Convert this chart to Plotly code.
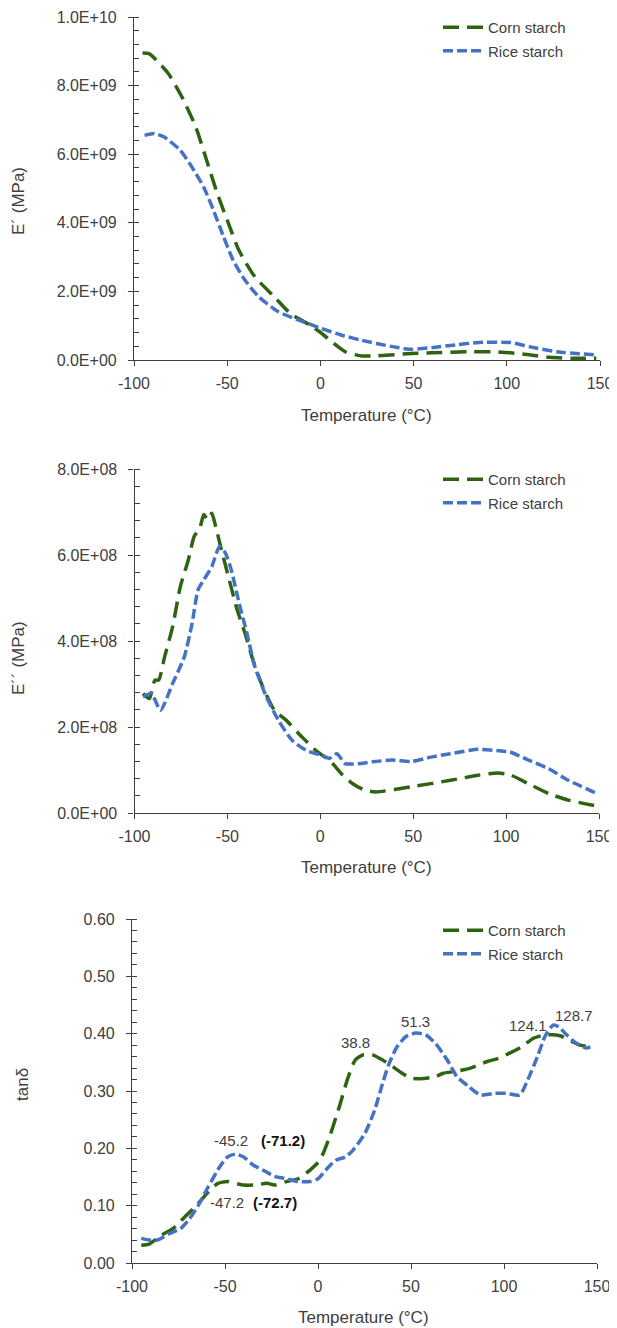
import plotly.graph_objects as go

# storage modulus E' (x1e9)
corn_e1_t = [-95.4, -92, -88, -81.6, -74.3, -66.9, -60.5, -55.3, -50, -43.7, -35.2, -24.7, -16.2, -5.7,
             0.6, 7, 13.3, 21.7, 30, 49, 59.7, 80.8, 93.5, 102, 112, 123, 135.6, 148]
corn_e1 = [8.95, 8.93, 8.74, 8.35, 7.67, 6.8, 5.73, 4.85, 4.08, 3.2, 2.43, 1.84, 1.36, 1.02,
           0.78, 0.49, 0.24, 0.12, 0.12, 0.19, 0.21, 0.24, 0.24, 0.21, 0.15, 0.08, 0.05, 0.05]
rice_e1_t = [-94.3, -89, -83.8, -75.3, -69, -62.7, -57.4, -52, -46.8, -40.5, -33, -22.6, -12, 0.6,
             11, 21.7, 38.6, 49, 59.7, 72.4, 85, 102, 112, 127, 148]
rice_e1 = [6.55, 6.6, 6.5, 6.12, 5.63, 5.05, 4.37, 3.6, 2.91, 2.33, 1.84, 1.41, 1.17, 0.92,
           0.73, 0.58, 0.39, 0.31, 0.36, 0.44, 0.51, 0.51, 0.39, 0.24, 0.15]

# loss modulus E'' (x1e8)
corn_e2_t = [-95.4, -92, -89, -87, -83.8, -79.5, -75.3, -71, -67.9, -64.8, -62.7, -60.5, -58.4, -56.3,
             -53.2, -49, -44.7, -40.5, -36.3, -31, -24.7, -18.4, -9.9, -1.5, 4.9, 11.2, 17.5, 23.9,
             30, 49, 70, 85, 95.6, 102, 112, 123, 133.5, 149]
corn_e2 = [2.78, 2.66, 3.09, 3.09, 3.63, 4.33, 5.27, 5.89, 6.43, 6.63, 6.94, 6.82, 6.97, 6.66,
           6.12, 5.42, 4.72, 4.18, 3.56, 2.94, 2.39, 2.16, 1.77, 1.42, 1.23, 0.92, 0.68, 0.53,
           0.49, 0.61, 0.76, 0.88, 0.93, 0.89, 0.68, 0.45, 0.30, 0.16]
rice_e2_t = [-95.4, -91, -86, -79.5, -73.2, -69, -65.8, -62.7, -58.4, -54.2, -51, -47.9, -43.7, -39.5,
             -35.2, -29, -22.6, -15.2, -7.8, 0.6, 4.9, 9, 13.3, 21.7, 28, 38.6, 49, 59.7,
             70, 85, 97.5, 102, 112, 123, 133.5, 148]
rice_e2 = [2.70, 2.78, 2.39, 3.01, 3.63, 4.41, 5.19, 5.42, 5.73, 6.2, 6.04, 5.65, 4.88, 4.18,
           3.4, 2.7, 2.16, 1.69, 1.46, 1.34, 1.27, 1.38, 1.15, 1.15, 1.19, 1.23, 1.2, 1.3,
           1.38, 1.48, 1.44, 1.42, 1.23, 1.03, 0.76, 0.47]

# tan delta
corn_tan_t = [-95, -90.7, -84.4, -78, -71.8, -65.4, -59, -53.8, -48.6, -44.4, -40, -33.8, -27.5, -23.3,
              -17, -10.6, -4.3, 1, 6.2, 11.5, 15.7, 20, 24.2, 29.4, 34.7, 40, 45.2, 50.5, 56.8,
              63.2, 67.4, 73.7, 82, 90.6, 96.9, 103, 109.5, 115.8, 122, 126.4, 130.6, 134.8, 141, 146.4]
corn_tan = [0.031, 0.033, 0.048, 0.06, 0.08, 0.10, 0.124, 0.139, 0.142, 0.139, 0.136, 0.136, 0.139, 0.136,
            0.142, 0.147, 0.162, 0.179, 0.22, 0.273, 0.319, 0.354, 0.363, 0.363, 0.354, 0.343, 0.331, 0.322, 0.322,
            0.325, 0.331, 0.334, 0.34, 0.351, 0.357, 0.366, 0.377, 0.392, 0.398, 0.398, 0.396, 0.389, 0.38, 0.377]
rice_tan_t = [-95, -90.7, -86.5, -80, -73.9, -69.6, -64.4, -59, -52.8, -48.6, -44.4, -40, -34.9, -29.6,
              -23.3, -17, -10.6, -4.3, 0, 4.1, 9.4, 14.7, 18.9, 25.2, 30.5, 34.7, 37.9, 42.1, 47.3,
              52.6, 57.9, 63.2, 69.5, 74.7, 81, 87.4, 94.8, 101, 108.5, 112.7, 118, 122, 126.4, 129.5,
              132.7, 139, 144.3, 146.4]
rice_tan = [0.043, 0.04, 0.04, 0.051, 0.06, 0.075, 0.10, 0.133, 0.168, 0.185, 0.19, 0.185, 0.171, 0.162,
            0.151, 0.147, 0.142, 0.142, 0.147, 0.162, 0.179, 0.185, 0.197, 0.226, 0.267, 0.313, 0.345, 0.375, 0.395,
            0.401, 0.398, 0.383, 0.354, 0.325, 0.308, 0.293, 0.296, 0.296, 0.293, 0.319, 0.36, 0.395, 0.415, 0.412,
            0.401, 0.383, 0.375, 0.377]

# peak labels on the tan delta panel
peak_text = ["38.8", "51.3", "124.1", "128.7", "-45.2", "<b>(-71.2)</b>", "-47.2", "<b>(-72.7)</b>"]
peak_x = [19.9, 52.2, 112.7, 137.6, -46.9, -18.6, -49, -23.3]
peak_y = [0.385, 0.421, 0.414, 0.431, 0.213, 0.213, 0.105, 0.105]

x_tickvals = [-100, -50, 0, 50, 100, 150]
x_ticktext = ["-100", "-50", "0", "50", "100", "150"]
e1_tickvals = [0, 2e9, 4e9, 6e9, 8e9, 1e10]
e1_ticktext = ["0.0E+00", "2.0E+09", "4.0E+09", "6.0E+09", "8.0E+09", "1.0E+10"]
e2_tickvals = [0, 2e8, 4e8, 6e8, 8e8]
e2_ticktext = ["0.0E+00", "2.0E+08", "4.0E+08", "6.0E+08", "8.0E+08"]

green = "#2E6312"
blue = "#4472C4"
grey = "#404040"

# the page body adds an 8px margin, so the figure is sized to the visible window and
# every position below (given in window pixels) is shifted by OFF
OFF = 8
W, H = 617 - OFF, 1328 - OFF


def fx(p):
    return (p - OFF) / W


def fy(p):
    return 1 - (p - OFF) / H


fig = go.Figure()

panels = [
    (corn_e1_t, [v * 1e9 for v in corn_e1], rice_e1_t, [v * 1e9 for v in rice_e1]),
    (corn_e2_t, [v * 1e8 for v in corn_e2], rice_e2_t, [v * 1e8 for v in rice_e2]),
    (corn_tan_t, corn_tan, rice_tan_t, rice_tan),
]
for i, (ct, cv, rt, rv) in enumerate(panels):
    n = "" if i == 0 else str(i + 1)
    leg = "legend" + n
    fig.add_trace(go.Scatter(x=ct, y=cv, mode="lines", name="Corn starch", xaxis="x" + n, yaxis="y" + n,
                             legend=leg, legendgroup="c" + n, line_shape="spline", line_smoothing=0.6,
                             line=dict(color=green, width=3.5, dash="16px,8px")))
    fig.add_trace(go.Scatter(x=rt, y=rv, mode="lines", name="Rice starch", xaxis="x" + n, yaxis="y" + n,
                             legend=leg, legendgroup="r" + n, line_shape="spline", line_smoothing=0.6,
                             line=dict(color=blue, width=3.5, dash="10px,4px")))

# window-pixel boxes of the three plot areas: left, right, top, bottom
boxes = [(134, 600, 17, 360), (134.5, 599, 469, 813), (132, 597, 919, 1263)]
yranges = [[0, 1e10], [0, 8e8], [0, 0.6]]
ymins = [4e8, 4e7, 0.02]
legend_tops = [11, 463, 914]
ytitles = ["E´ (MPa)", "E´´ (MPa)", "tanδ"]
ytitle_pos = [(18, 201), (18, 658), (22, 1085)]
xtitle_pos = [(367, 415), (367, 867), (364, 1317)]

axis_common = dict(showgrid=False, zeroline=False, showline=True, linecolor=grey, linewidth=1.2,
                   ticks="outside", ticklen=5, tickcolor=grey, tickwidth=1.2, automargin=False,
                   ticklabeloverflow="allow",
                   tickfont=dict(family="Liberation Sans", size=16, color=grey))
layout = {}
for i, (l, r, t, b) in enumerate(boxes):
    n = "" if i == 0 else str(i + 1)
    layout["xaxis" + n] = dict(axis_common, domain=[fx(l), fx(r)], range=[-100, 150],
                               tickvals=x_tickvals, ticktext=x_ticktext,
                               anchor="y" + n, ticklabelstandoff=4)
    yax = dict(axis_common, domain=[fy(b), fy(t)], range=yranges[i], anchor="x" + n,
               ticklabelstandoff=8,
               minor=dict(ticks="inside", ticklen=5, tickcolor=grey, tickwidth=1.2, dtick=ymins[i]))
    if i == 0:
        yax.update(tickvals=e1_tickvals, ticktext=e1_ticktext)
    elif i == 1:
        yax.update(tickvals=e2_tickvals, ticktext=e2_ticktext)
    else:
        yax.update(dtick=0.1, tickformat=".2f")
    layout["yaxis" + n] = yax
    layout["legend" + n] = dict(x=fx(438), y=fy(legend_tops[i]), xanchor="left", yanchor="top",
                                bgcolor="rgba(0,0,0,0)", traceorder="grouped", tracegroupgap=1,
                                itemwidth=40,
                                font=dict(family="Liberation Sans", size=15, color=grey))

annotations = []
for i in range(3):
    annotations.append(dict(text=ytitles[i], x=fx(ytitle_pos[i][0]), y=fy(ytitle_pos[i][1]),
                            xref="paper", yref="paper", showarrow=False, textangle=-90,
                            xanchor="center", yanchor="middle",
                            font=dict(family="Liberation Sans", size=17, color=grey)))
    annotations.append(dict(text="Temperature (°C)", x=fx(xtitle_pos[i][0]), y=fy(xtitle_pos[i][1]),
                            xref="paper", yref="paper", showarrow=False,
                            xanchor="center", yanchor="middle",
                            font=dict(family="Liberation Sans", size=17, color=grey)))
for txt, px_, py_ in zip(peak_text, peak_x, peak_y):
    annotations.append(dict(text=txt, x=px_, y=py_, xref="x3", yref="y3", showarrow=False,
                            xanchor="center", yanchor="middle",
                            font=dict(family="Liberation Sans", size=15,
                                      color="#111111" if "<b>" in txt else grey)))

fig.update_layout(width=W, height=H, margin=dict(l=0, r=0, t=0, b=0), paper_bgcolor="white",
                  plot_bgcolor="white", annotations=annotations, **layout)

fig.write_html("out.html")
